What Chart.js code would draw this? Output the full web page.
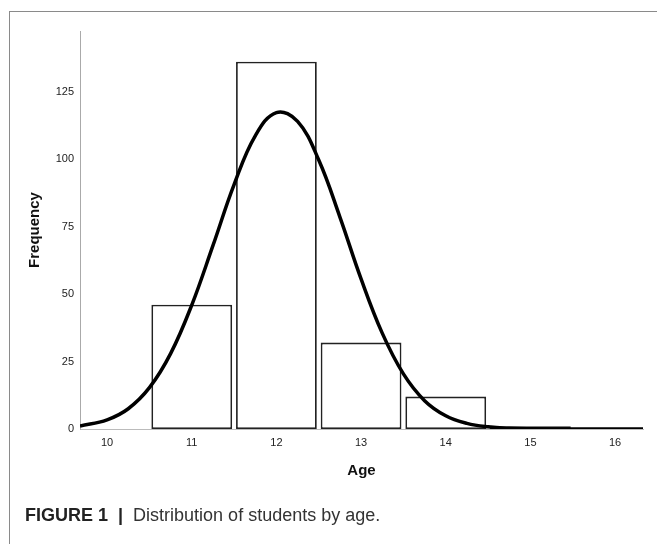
<!DOCTYPE html>
<html>
<head>
<meta charset="utf-8">
<script src="https://cdn.jsdelivr.net/npm/chart.js@4"></script>
<style>
  html, body { margin: 0; padding: 0; background: #fff; }
  body { width: 657px; height: 544px; position: relative; overflow: hidden; font-family: "Liberation Sans", Arial, sans-serif; }
  #frame { position: absolute; left: 9px; top: 11px; right: -2px; bottom: -2px; border: 1px solid #8a8a8a; }
  #age-histogram { position: absolute; left: 0; top: 0; }
  #caption { position: absolute; left: 25px; top: 505px; font-size: 18px; color: #333; white-space: nowrap; }
  #caption b { color: #222; }
</style>
</head>
<body>
<div id="frame"></div>
<canvas id="age-histogram" width="657" height="544"></canvas>
<div id="caption"><b>FIGURE 1</b>&nbsp; <b>|</b>&nbsp; Distribution of students by age.</div>
<script>
// histogram bins (age -> number of students)
const ages = [11, 12, 13, 14, 15];
const counts = [46, 136, 32, 12, 1];

// normal curve
const curveX = [9.68, 10, 10.25, 10.5, 10.75, 11, 11.25, 11.5, 11.75, 12, 12.25, 12.5, 12.75, 13, 13.25, 13.5, 13.75, 14, 14.25, 14.5, 14.75, 15, 15.5, 16, 16.33];
const curveY = [1.1, 3.4, 7.5, 15.3, 27.9, 45.9, 67.9, 90.5, 108.6, 117.2, 113.9, 99.6, 78.5, 55.6, 35.5, 20.4, 10.5, 4.9, 2.1, 0.8, 0.25, 0.08, 0, 0, 0];

const yTicks = [0, 25, 50, 75, 100, 125];
const xTicks = [10, 11, 12, 13, 14, 15, 16];

const canvas = document.getElementById('age-histogram');
const ctx = canvas.getContext('2d');

const tickFont = { family: 'Liberation Sans, Arial, sans-serif', size: 11 };
const titleFont = { family: 'Liberation Sans, Arial, sans-serif', size: 15, weight: 'bold' };

const chart = new Chart(ctx, {
    type: 'bar',
    data: {
        datasets: [{
            type: 'line',
            label: 'Normal',
            data: curveX.map((x, i) => ({ x: x, y: curveY[i] })),
            borderColor: '#000',
            borderWidth: 3.5,
            pointRadius: 0,
            tension: 0.4,
            fill: false,
            order: 0
        }, {
            label: 'Frequency',
            data: ages.map((a, i) => ({ x: a, y: counts[i] })),
            backgroundColor: '#fff',
            borderColor: '#222',
            borderWidth: 1.8,
            borderSkipped: false,
            barPercentage: 0.954,
            categoryPercentage: 1,
            order: 1
        }]
    },
    options: {
        responsive: false,
        animation: false,
        devicePixelRatio: 1,
        layout: { padding: { left: 0, right: 14, top: 31, bottom: 55 } },
        plugins: {
            legend: { display: false },
            tooltip: { enabled: false }
        },
        scales: {
            x: {
                type: 'linear',
                min: 9.68,
                max: 16.33,
                offset: false,
                grid: { display: false, drawTicks: false },
                border: { display: true, color: '#bbb', width: 1 },
                afterBuildTicks: (scale) => { scale.ticks = xTicks.map(v => ({ value: v })); },
                ticks: { font: tickFont, color: '#222', padding: 7, includeBounds: false, maxRotation: 0 },
                title: { display: true, text: 'Age', font: titleFont, color: '#111', padding: { top: 0, bottom: 9 } },
                afterFit: (scale) => { scale.height = 60; }
            },
            y: {
                min: 0,
                max: 147.4,
                grid: { display: false, drawTicks: false },
                border: { display: true, color: '#aaa', width: 1 },
                afterBuildTicks: (scale) => { scale.ticks = yTicks.map(v => ({ value: v })); },
                ticks: { font: tickFont, color: '#222', padding: 6, includeBounds: false },
                title: { display: true, text: 'Frequency', font: titleFont, color: '#111', padding: { top: 26, bottom: 0 } },
                afterFit: (scale) => { scale.width = 80; }
            }
        }
    }
});
</script>
</body>
</html>
